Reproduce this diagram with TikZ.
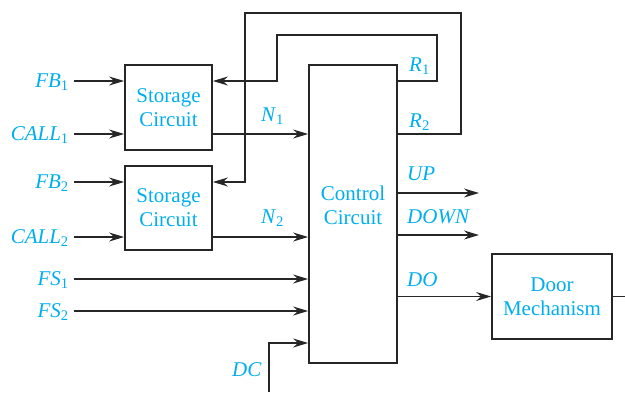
\documentclass[tikz,border=0pt]{standalone}
\usepackage{fontspec}
\setmainfont{Liberation Serif}
\usetikzlibrary{arrows.meta}
\definecolor{sigcyan}{RGB}{0,174,239}
\newcommand{\sig}[2]{\textit{#1}\textsubscript{#2}}
\begin{document}
\begin{tikzpicture}[
    x=1pt, y=-1pt,
    >={Stealth[length=15pt, width=9pt, inset=5pt]},
    block/.style={draw=black!85, line width=1.8pt, rectangle, align=center, text=sigcyan, inner sep=0pt,
                  font=\fontsize{21}{24}\selectfont},
    sig/.style={text=sigcyan, inner sep=0pt, font=\fontsize{21}{24}\selectfont},
    wire/.style={draw=black!85, line width=1.2pt}
]
  \useasboundingbox (0,0) rectangle (625,392);

  % Blocks
  \node[block, minimum width=87pt, minimum height=85pt] (st1) at (168.5,107.5) {Storage\\Circuit};
  \node[block, minimum width=87pt, minimum height=84pt] (st2) at (168.5,208) {Storage\\Circuit};
  \node[block, minimum width=88pt, minimum height=298pt] (ctrl) at (353,214) {};
  \node[sig, align=center] (ctrltxt) at ([yshift=9pt]ctrl.center) {Control\\Circuit};
  \node[block, minimum width=120pt, minimum height=85pt] (door) at (552,296.5) {Door\\Mechanism};

  % Input ends
  \coordinate (fb1) at (74,81);
  \coordinate (call1) at (74,134);
  \coordinate (fb2) at (74,182);
  \coordinate (call2) at (74,237);
  \coordinate (fs1) at (74,279);
  \coordinate (fs2) at (74,311);
  \coordinate (dc) at (269,392);

  % Input labels
  \node[sig, anchor=base east] (lfb1) at (69,87) {\sig{FB}{1}};
  \node[sig, anchor=base east] (lcall1) at (69,140) {\sig{CALL}{1}};
  \node[sig, anchor=base east] (lfb2) at (69,188) {\sig{FB}{2}};
  \node[sig, anchor=base east] (lcall2) at (69,243) {\sig{CALL}{2}};
  \node[sig, anchor=base east] (lfs1) at (69,285) {\sig{FS}{1}};
  \node[sig, anchor=base east] (lfs2) at (69,317) {\sig{FS}{2}};

  % Inputs
  \draw[wire,->] (fb1) -- (st1.west |- fb1);
  \draw[wire,->] (call1) -- (st1.west |- call1);
  \draw[wire,->] (fb2) -- (st2.west |- fb2);
  \draw[wire,->] (call2) -- (st2.west |- call2);
  \draw[wire,->] (fs1) -- (ctrl.west |- fs1);
  \draw[wire,->] (fs2) -- (ctrl.west |- fs2);
  \draw[wire,->] (dc) |- (ctrl.west |- 0,343);

  % Storage outputs
  \draw[wire,->] (st1.east |- call1) -- (ctrl.west |- call1);
  \draw[wire,->] (st2.east |- call2) -- (ctrl.west |- call2);
  \node[sig, anchor=base west] (ln1) at (261,121) {\sig{N}{1}};
  \node[sig, anchor=base west] (ln2) at (261,223) {\sig{N}{2}};

  % Feedback R1, R2
  \draw[wire,->] (ctrl.east |- fb1) -- (437,81) -- (437,35) -- (277,35) -- (277,81) -- (st1.east |- fb1);
  \draw[wire,->] (ctrl.east |- call1) -- (461,134) -- (461,13) -- (245,13) -- (245,182) -- (st2.east |- fb2);
  \node[sig, anchor=base west] (lr1) at (409,71) {\sig{R}{1}};
  \node[sig, anchor=base west] (lr2) at (409,127) {\sig{R}{2}};

  % Outputs
  \coordinate (up) at (479,193);
  \coordinate (down) at (479,235);
  \coordinate (out) at (625,296.5);
  \draw[wire,->] (ctrl.east |- up) -- (up);
  \draw[wire,->] (ctrl.east |- down) -- (down);
  \draw[wire,->] (ctrl.east |- door.west) -- (door.west);
  \draw[wire] (door.east) -- (out);
  \node[sig, anchor=base west] (lup) at (407,180) {\textit{UP}};
  \node[sig, anchor=base west] (ldown) at (407,223) {\textit{DOWN}};
  \node[sig, anchor=base west] (ldo) at (407,286) {\textit{DO}};
  \node[sig, anchor=base west] (ldc) at (232,376) {\textit{DC}};
\end{tikzpicture}
\end{document}
